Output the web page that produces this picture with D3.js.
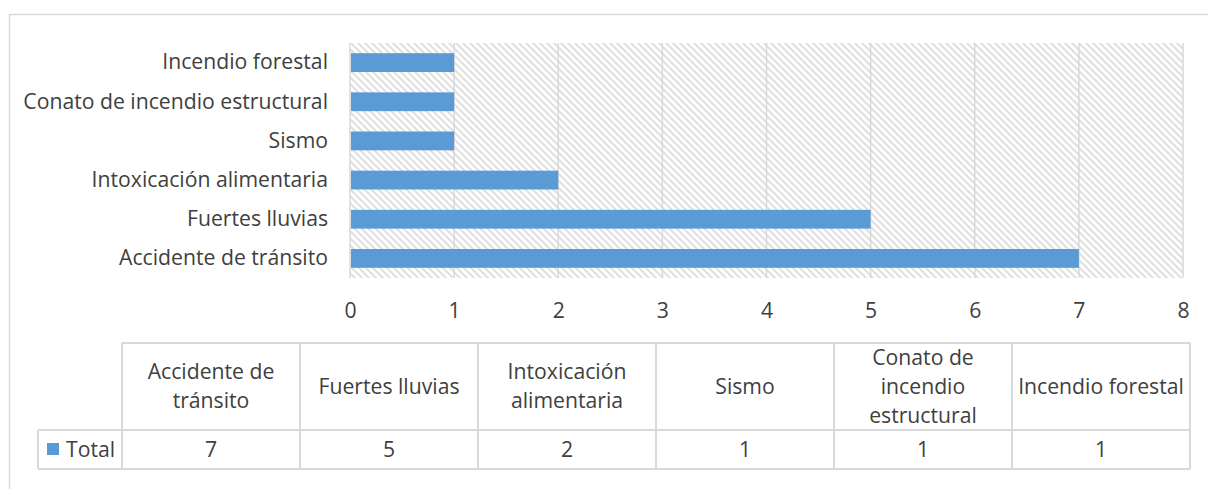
<!DOCTYPE html>
<html><head><meta charset="utf-8">
<script src="https://cdn.jsdelivr.net/npm/d3@7"></script>
<style>body{margin:0;background:#fff}svg{display:block}</style>
</head><body>
<svg id="c" width="1208" height="489"></svg>
<script>
const categories = ["Accidente de tránsito","Fuertes lluvias","Intoxicación alimentaria","Sismo","Conato de incendio estructural","Incendio forestal"];
const values = [7,5,2,1,1,1];
const seriesName = "Total";
const ticks = [0,1,2,3,4,5,6,7,8];
const tableHeaders = [["Accidente de","tránsito"],["Fuertes lluvias"],["Intoxicación","alimentaria"],["Sismo"],["Conato de","incendio","estructural"],["Incendio forestal"]];

const FONT = "'Open Sans', sans-serif";
const TXT = "#404040";
const GRID = "#d9d9d9";
const BAR = "#5b9bd5";

const svg = d3.select("#c");

// fit font size so that the longest label matches reference width (~209px)
const probe = svg.append("text").attr("font-family",FONT).attr("font-size",18).text("Accidente de tránsito");
const w = probe.node().getComputedTextLength();
probe.remove();
const FS = Math.max(14, Math.min(22, 18*209/w));

const defs = svg.append("defs");
const pat = defs.append("pattern").attr("id","hatch").attr("patternUnits","userSpaceOnUse")
  .attr("width",7).attr("height",7);
pat.append("rect").attr("width",7).attr("height",7).attr("fill","#fff");
pat.append("path").attr("d","M-2,-2 L9,9 M-2,5 L2,9 M5,-2 L9,2").attr("stroke","#e0e0e0").attr("stroke-width",2);

// chart border
svg.append("rect").attr("x",9.5).attr("y",14.5).attr("width",1250).attr("height",520)
  .attr("fill","none").attr("stroke",GRID).attr("stroke-width",1.5);

const x = d3.scaleLinear().domain([0,8]).range([350,1183]);
const y = d3.scaleBand().domain(categories.slice().reverse()).range([43,278]).paddingInner(0.52).paddingOuter(0.26);

svg.append("rect").attr("x",x(0)).attr("y",43).attr("width",x(8)-x(0)).attr("height",235).attr("fill","url(#hatch)");

// grid
svg.append("g").selectAll("line").data(ticks).join("line")
  .attr("x1",d=>x(d)).attr("x2",d=>x(d)).attr("y1",43).attr("y2",278)
  .attr("stroke",GRID).attr("stroke-width",1.5);

// bars
svg.append("g").selectAll("rect").data(categories).join("rect")
  .attr("x",x(0)+1).attr("y",d=>y(d)).attr("height",y.bandwidth())
  .attr("width",(d,i)=>x(values[i])-x(0)-1).attr("fill",BAR);

// x axis
const xa = svg.append("g").attr("transform","translate(0,278)").call(d3.axisBottom(x).tickValues(ticks).tickSize(0).tickPadding(25));
xa.select(".domain").remove();
xa.selectAll("text").attr("font-family",FONT).attr("font-size",FS).attr("fill",TXT);

// y axis
const ya = svg.append("g").attr("transform","translate(350,0)").call(d3.axisLeft(y).tickSize(0).tickPadding(22));
ya.select(".domain").remove();
ya.selectAll("text").attr("font-family",FONT).attr("font-size",FS).attr("fill",TXT);

// data table
const colX = d3.scaleBand().domain(categories).range([122,1190]);
const tTop = 343, hBot = 430, tBot = 469, legL = 38;
const tg = svg.append("g");
const ln = (x1,y1,x2,y2)=>tg.append("line").attr("x1",x1).attr("y1",y1).attr("x2",x2).attr("y2",y2).attr("stroke",GRID).attr("stroke-width",2);
ln(122,tTop,1190,tTop);
ln(legL,hBot,1190,hBot);
ln(legL,tBot,1190,tBot);
ln(legL,hBot,legL,tBot);
categories.forEach(c=>ln(colX(c),tTop,colX(c),tBot));
ln(1190,tTop,1190,tBot);

categories.forEach((c,i)=>{
  const lines = tableHeaders[i];
  const cx = colX(c)+colX.bandwidth()/2;
  const lh = 29, mid = (tTop+hBot)/2;
  const t = tg.append("text").attr("font-family",FONT).attr("font-size",FS).attr("fill",TXT).attr("text-anchor","middle");
  lines.forEach((s,k)=>{
    t.append("tspan").attr("x",cx).attr("y",mid + (k-(lines.length-1)/2)*lh).attr("dy","0.35em").text(s);
  });
  tg.append("text").attr("x",cx).attr("y",(hBot+tBot)/2).attr("dy","0.35em").attr("text-anchor","middle")
    .attr("font-family",FONT).attr("font-size",FS).attr("fill",TXT).text(values[i]);
});
tg.append("rect").attr("x",47).attr("y",443).attr("width",12).attr("height",12).attr("fill",BAR);
tg.append("text").attr("x",66).attr("y",(hBot+tBot)/2).attr("dy","0.35em").attr("font-family",FONT).attr("font-size",FS).attr("fill",TXT).text(seriesName);
</script>
</body></html>
